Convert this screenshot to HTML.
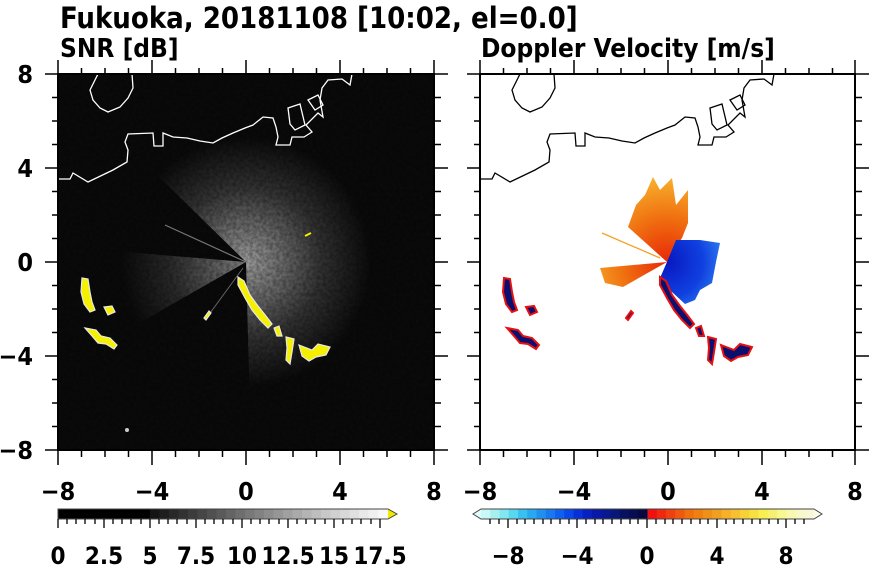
<!DOCTYPE html>
<html><head><meta charset="utf-8"><style>
html,body{margin:0;padding:0;background:#fff;width:870px;height:570px;overflow:hidden;}
svg{display:block}
text{font-family:"DejaVu Sans Condensed","DejaVu Sans","Liberation Sans",sans-serif;font-weight:bold;fill:#000}
</style></head><body>
<svg width="870" height="570" viewBox="0 0 870 570" xmlns="http://www.w3.org/2000/svg">
<defs>
<radialGradient id="gfan" cx="246" cy="262" r="125" gradientUnits="userSpaceOnUse">
<stop offset="0" stop-color="#a0a0a0"/><stop offset="0.3" stop-color="#6a6a6a"/><stop offset="0.6" stop-color="#333"/><stop offset="1" stop-color="#0a0a0a"/>
</radialGradient>
<radialGradient id="ofan" cx="667" cy="262" r="90" gradientUnits="userSpaceOnUse">
<stop offset="0" stop-color="#e82808"/><stop offset="0.5" stop-color="#f07010"/><stop offset="1" stop-color="#f8b830"/>
</radialGradient>
<radialGradient id="bfan" cx="667" cy="262" r="60" gradientUnits="userSpaceOnUse">
<stop offset="0" stop-color="#0818c0"/><stop offset="0.6" stop-color="#1040e0"/><stop offset="1" stop-color="#3080f0"/>
</radialGradient>
<filter id="noise"><feTurbulence type="fractalNoise" baseFrequency="0.3" numOctaves="2" seed="3"/><feColorMatrix type="matrix" values="0 0 0 0 0 0 0 0 0 0 0 0 0 0 0 0 0 0 0.6 -0.15"/></filter>
<clipPath id="lc"><rect x="58" y="74" width="376" height="376"/></clipPath>
<clipPath id="rc"><rect x="480" y="74" width="375" height="376"/></clipPath>
<g id="blobs">
<path d="M82,278 L88,279 L90,292 L92,302 L95,310 L90,312 L84,304 L81,292 Z"/>
<path d="M104,307 L112,306 L115,312 L108,315 Z"/>
<path d="M85,328 L96,330 L101,336 L110,338 L117,345 L114,349 L106,344 L98,343 L92,336 Z"/>
<path d="M238,277 L244,281 L250,295 L258,306 L266,316 L272,324 L268,328 L260,320 L252,310 L245,298 L238,285 Z"/>
<path d="M274,328 L279,326 L282,336 L277,336 Z"/>
<path d="M286,337 L294,339 L292,352 L290,364 L286,360 L287,348 Z"/>
<path d="M299,345 L312,350 L318,344 L330,347 L326,355 L316,357 L309,361 L302,356 Z"/>
<path d="M204,318 L209,311 L211,313 L206,320 Z"/>
</g>
</defs>

<text x="60" y="28" font-size="29">Fukuoka, 20181108 [10:02, el=0.0]</text>
<text x="60" y="57" font-size="26">SNR [dB]</text>
<text x="481" y="57" font-size="26">Doppler Velocity [m/s]</text>

<g clip-path="url(#lc)">
<rect x="58" y="74" width="376" height="376" fill="#0a0a0a"/>
<path d="M246,262 L360,-60 L600,100 L600,600 L255,600 Z" fill="url(#gfan)"/>
<path d="M246,262 L360,-60 L120,-60 L60,80 Z" fill="url(#gfan)"/>
<path d="M246,262 L40,245 L40,380 Z" fill="url(#gfan)" opacity="0.8"/>
<rect x="58" y="74" width="376" height="376" filter="url(#noise)"/>
<line x1="246" y1="262" x2="165" y2="225" stroke="#777" stroke-width="1.2"/>
<line x1="243" y1="268" x2="205" y2="320" stroke="#666" stroke-width="1"/>
<g fill="#f4f000" stroke="#e8e8e8" stroke-width="1.2"><use href="#blobs"/></g>
<circle cx="127" cy="430" r="2" fill="#ccc"/>
<line x1="305" y1="236" x2="311" y2="233" stroke="#f4f000" stroke-width="2"/>
<g fill="none" stroke="#fff" stroke-width="1.3">
<path d="M98,74 L90,90 L93,100 L100,108 L108,112 L120,107 L128,98 L133,88 L132,74"/>
<path d="M58,179 L70,179 L73,173 L88,182 L113,170 L127,162 L128,150 L125,142 L128,134 L153,133 L154,146 L163,146 L163,133 L173,137 L187,138 L200,141 L213,143 L222,138 L233,133 L245,128 L253,125 L263,117 L273,118 L276,127 L278,137 L276,145 L290,145 L292,137 L304,137 L312,132 L306,125 L318,113 L323,117 L320,100 L322,88 L328,80 L342,79 L350,85 L352,74"/>
<path d="M288,108 L300,104 L305,125 L295,130 L290,124 Z"/>
<path d="M308,100 L318,95 L323,105 L315,110 Z"/>
</g>
</g>
<rect x="58" y="74" width="376" height="376" fill="none" stroke="#000" stroke-width="2"/>

<g clip-path="url(#rc)">
<path d="M667,262 L628,227 L636,205 L645,195 L653,177 L660,190 L672,178 L676,205 L688,190 L688,223 L682,238 Z" fill="url(#ofan)"/>
<path d="M667,262 L600,268 L605,283 L623,287 Z" fill="url(#ofan)"/>
<line x1="602" y1="233" x2="660" y2="258" stroke="#f5a020" stroke-width="1.3"/>
<path d="M667,262 L676,240 L700,240 L720,243 L716,262 L712,283 L700,290 L695,300 L685,304 L672,292 L660,278 Z" fill="url(#bfan)"/>
<g fill="#0a1070" stroke="#e81010" stroke-width="2" transform="translate(422,0)"><use href="#blobs"/></g>
<g fill="none" stroke="#000" stroke-width="1.3" transform="translate(422,0)">
<path d="M98,74 L90,90 L93,100 L100,108 L108,112 L120,107 L128,98 L133,88 L132,74"/>
<path d="M58,179 L70,179 L73,173 L88,182 L113,170 L127,162 L128,150 L125,142 L128,134 L153,133 L154,146 L163,146 L163,133 L173,137 L187,138 L200,141 L213,143 L222,138 L233,133 L245,128 L253,125 L263,117 L273,118 L276,127 L278,137 L276,145 L290,145 L292,137 L304,137 L312,132 L306,125 L318,113 L323,117 L320,100 L322,88 L328,80 L342,79 L350,85 L352,74"/>
<path d="M288,108 L300,104 L305,125 L295,130 L290,124 Z"/>
<path d="M308,100 L318,95 L323,105 L315,110 Z"/>
</g>
</g>
<rect x="480" y="74" width="375" height="376" fill="none" stroke="#000" stroke-width="2"/>

<g stroke="#000" stroke-width="1.5">
<path d="M58,74v-14M152,74v-14M246,74v-14M340,74v-14M434,74v-14M58,450v15M152,450v15M246,450v15M340,450v15M434,450v15M58,74h-13M58,168h-13M58,262h-13M58,356h-13M58,450h-13M434,74h14M434,168h14M434,262h14M434,356h14M434,450h14"/>
<path d="M81.5,74v-6M105,74v-6M128.5,74v-6M175.5,74v-6M199,74v-6M222.5,74v-6M269.5,74v-6M293,74v-6M316.5,74v-6M363.5,74v-6M387,74v-6M410.5,74v-6
M81.5,450v7M105,450v7M128.5,450v7M175.5,450v7M199,450v7M222.5,450v7M269.5,450v7M293,450v7M316.5,450v7M363.5,450v7M387,450v7M410.5,450v7
M58,97.5h-6M58,121h-6M58,144.5h-6M58,191.5h-6M58,215h-6M58,238.5h-6M58,285.5h-6M58,309h-6M58,332.5h-6M58,379.5h-6M58,403h-6M58,426.5h-6
M434,97.5h7M434,121h7M434,144.5h7M434,191.5h7M434,215h7M434,238.5h7M434,285.5h7M434,309h7M434,332.5h7M434,379.5h7M434,403h7M434,426.5h7"/>
<g transform="translate(422,0)">
<path d="M58,74v-14M152,74v-14M246,74v-14M340,74v-14M433,74v-14M58,450v15M152,450v15M246,450v15M340,450v15M433,450v15M58,74h-13M58,168h-13M58,262h-13M58,356h-13M58,450h-13M433,74h14M433,168h14M433,262h14M433,356h14M433,450h14"/>
<path d="M81.5,74v-6M105,74v-6M128.5,74v-6M175.5,74v-6M199,74v-6M222.5,74v-6M269.5,74v-6M293,74v-6M316.5,74v-6M363.5,74v-6M387,74v-6M410.5,74v-6
M81.5,450v7M105,450v7M128.5,450v7M175.5,450v7M199,450v7M222.5,450v7M269.5,450v7M293,450v7M316.5,450v7M363.5,450v7M387,450v7M410.5,450v7
M58,97.5h-6M58,121h-6M58,144.5h-6M58,191.5h-6M58,215h-6M58,238.5h-6M58,285.5h-6M58,309h-6M58,332.5h-6M58,379.5h-6M58,403h-6M58,426.5h-6
M433,97.5h7M433,121h7M433,144.5h7M433,191.5h7M433,215h7M433,238.5h7M433,285.5h7M433,309h7M433,332.5h7M433,379.5h7M433,403h7M433,426.5h7"/>
</g>
</g>

<g font-size="25" text-anchor="end">
<text x="33" y="83">8</text><text x="33" y="177">4</text><text x="33" y="271">0</text><text x="33" y="365">−4</text><text x="33" y="459">−8</text>
</g>
<g font-size="25" text-anchor="middle">
<text x="58" y="500">−8</text><text x="152" y="500">−4</text><text x="246" y="500">0</text><text x="340" y="500">4</text><text x="434" y="500">8</text>
<text x="480" y="500">−8</text><text x="574" y="500">−4</text><text x="668" y="500">0</text><text x="762" y="500">4</text><text x="855" y="500">8</text>
</g>

<g>
<rect x="58" y="509" width="92" height="10" fill="#000"/>
<rect x="150" y="509" width="10" height="10" fill="#141414"/>
<rect x="159.5" y="509" width="10" height="10" fill="#1e1e1e"/>
<rect x="169" y="509" width="10" height="10" fill="#282828"/>
<rect x="178.5" y="509" width="10" height="10" fill="#323232"/>
<rect x="188" y="509" width="10" height="10" fill="#3c3c3c"/>
<rect x="197.5" y="509" width="10" height="10" fill="#464646"/>
<rect x="207" y="509" width="10" height="10" fill="#505050"/>
<rect x="216.5" y="509" width="10" height="10" fill="#5a5a5a"/>
<rect x="226" y="509" width="10" height="10" fill="#646464"/>
<rect x="235.5" y="509" width="10" height="10" fill="#6e6e6e"/>
<rect x="245" y="509" width="10" height="10" fill="#787878"/>
<rect x="254.5" y="509" width="10" height="10" fill="#828282"/>
<rect x="264" y="509" width="10" height="10" fill="#8c8c8c"/>
<rect x="273.5" y="509" width="10" height="10" fill="#969696"/>
<rect x="283" y="509" width="10" height="10" fill="#a0a0a0"/>
<rect x="292.5" y="509" width="10" height="10" fill="#aaaaaa"/>
<rect x="302" y="509" width="10" height="10" fill="#b4b4b4"/>
<rect x="311.5" y="509" width="10" height="10" fill="#bebebe"/>
<rect x="321" y="509" width="10" height="10" fill="#c8c8c8"/>
<rect x="330.5" y="509" width="10" height="10" fill="#d0d0d0"/>
<rect x="340" y="509" width="10" height="10" fill="#d8d8d8"/>
<rect x="349.5" y="509" width="10" height="10" fill="#e0e0e0"/>
<rect x="359" y="509" width="10" height="10" fill="#e8e8e8"/>
<rect x="368.5" y="509" width="10" height="10" fill="#f0f0f0"/>
<rect x="378" y="509" width="10" height="10" fill="#f8f8f8"/>
<path d="M388,509 L397,514 L388,519 Z" fill="#f0e800"/>
<path d="M58,509 H388 L397,514 L388,519 H58 Z" fill="none" stroke="#444" stroke-width="1"/>
<g stroke="#000" stroke-width="1.3">
<path d="M58,519v9M104,519v9M150,519v9M196,519v9M242,519v9M288,519v9M334,519v9M380,519v9"/>
<path d="M67,519v5M76,519v5M85,519v5M95,519v5M113,519v5M122,519v5M131,519v5M141,519v5M159,519v5M168,519v5M177,519v5M187,519v5M205,519v5M214,519v5M223,519v5M233,519v5M251,519v5M260,519v5M269,519v5M279,519v5M297,519v5M306,519v5M315,519v5M325,519v5M343,519v5M352,519v5M361,519v5M371,519v5"/>
</g>
<g font-size="24" text-anchor="middle">
<text x="58" y="564">0</text><text x="104" y="564">2.5</text><text x="150" y="564">5</text><text x="196" y="564">7.5</text><text x="242" y="564">10</text><text x="288" y="564">12.5</text><text x="334" y="564">15</text><text x="380" y="564">17.5</text>
</g>
</g>

<g>
<path d="M481,509 L473,514 L481,519 Z" fill="#e0fcfc"/>
<path d="M814,509 L822,514 L814,519 Z" fill="#fcfce8"/>
<g>
<rect x="481" y="509" width="9.5" height="10" fill="#c8f8f8"/>
<rect x="490.25" y="509" width="9.5" height="10" fill="#a8f0f0"/>
<rect x="499.5" y="509" width="9.5" height="10" fill="#80e8f0"/>
<rect x="508.75" y="509" width="9.5" height="10" fill="#58d8f0"/>
<rect x="518" y="509" width="9.5" height="10" fill="#38c0f0"/>
<rect x="527.25" y="509" width="9.5" height="10" fill="#28a8f0"/>
<rect x="536.5" y="509" width="9.5" height="10" fill="#2090f0"/>
<rect x="545.75" y="509" width="9.5" height="10" fill="#1878f0"/>
<rect x="555" y="509" width="9.5" height="10" fill="#1060f0"/>
<rect x="564.25" y="509" width="9.5" height="10" fill="#0848e8"/>
<rect x="573.5" y="509" width="9.5" height="10" fill="#0830d8"/>
<rect x="582.75" y="509" width="9.5" height="10" fill="#0820c0"/>
<rect x="592" y="509" width="9.5" height="10" fill="#0818a8"/>
<rect x="601.25" y="509" width="9.5" height="10" fill="#081890"/>
<rect x="610.5" y="509" width="9.5" height="10" fill="#081878"/>
<rect x="619.75" y="509" width="9.5" height="10" fill="#081060"/>
<rect x="629" y="509" width="9.5" height="10" fill="#080c50"/>
<rect x="638.25" y="509" width="9.5" height="10" fill="#080840"/>
<rect x="647.5" y="509" width="9.5" height="10" fill="#f01010"/>
<rect x="656.75" y="509" width="9.5" height="10" fill="#f02810"/>
<rect x="666" y="509" width="9.5" height="10" fill="#f04010"/>
<rect x="675.25" y="509" width="9.5" height="10" fill="#f05810"/>
<rect x="684.5" y="509" width="9.5" height="10" fill="#f07010"/>
<rect x="693.75" y="509" width="9.5" height="10" fill="#f08010"/>
<rect x="703" y="509" width="9.5" height="10" fill="#f09018"/>
<rect x="712.25" y="509" width="9.5" height="10" fill="#f0a020"/>
<rect x="721.5" y="509" width="9.5" height="10" fill="#f8b028"/>
<rect x="730.75" y="509" width="9.5" height="10" fill="#f8c030"/>
<rect x="740" y="509" width="9.5" height="10" fill="#f8d038"/>
<rect x="749.25" y="509" width="9.5" height="10" fill="#f8e040"/>
<rect x="758.5" y="509" width="9.5" height="10" fill="#f8f050"/>
<rect x="767.75" y="509" width="9.5" height="10" fill="#f8f070"/>
<rect x="777" y="509" width="9.5" height="10" fill="#f8f890"/>
<rect x="786.25" y="509" width="9.5" height="10" fill="#f8f8b0"/>
<rect x="795.5" y="509" width="9.5" height="10" fill="#f8f8c8"/>
<rect x="804.75" y="509" width="9.25" height="10" fill="#f8f8d8"/>
</g>
<path d="M481,509 H814 L822,514 L814,519 H481 L473,514 Z" fill="none" stroke="#444" stroke-width="1"/>
<g stroke="#000" stroke-width="1.3">
<path d="M508,519v9M577,519v9M647,519v9M717,519v9M786,519v9"/>
<path d="M490,519v5M499,519v5M517,519v5M525,519v5M534,519v5M543,519v5M551,519v5M560,519v5M569,519v5M586,519v5M595,519v5M603,519v5M612,519v5M621,519v5M630,519v5M638,519v5M656,519v5M665,519v5M673,519v5M682,519v5M691,519v5M700,519v5M708,519v5M726,519v5M734,519v5M743,519v5M752,519v5M760,519v5M769,519v5M778,519v5M795,519v5M804,519v5"/>
</g>
<g font-size="24" text-anchor="middle">
<text x="508" y="564">−8</text><text x="577" y="564">−4</text><text x="647" y="564">0</text><text x="717" y="564">4</text><text x="786" y="564">8</text>
</g>
</g>
</svg>
</body></html>
